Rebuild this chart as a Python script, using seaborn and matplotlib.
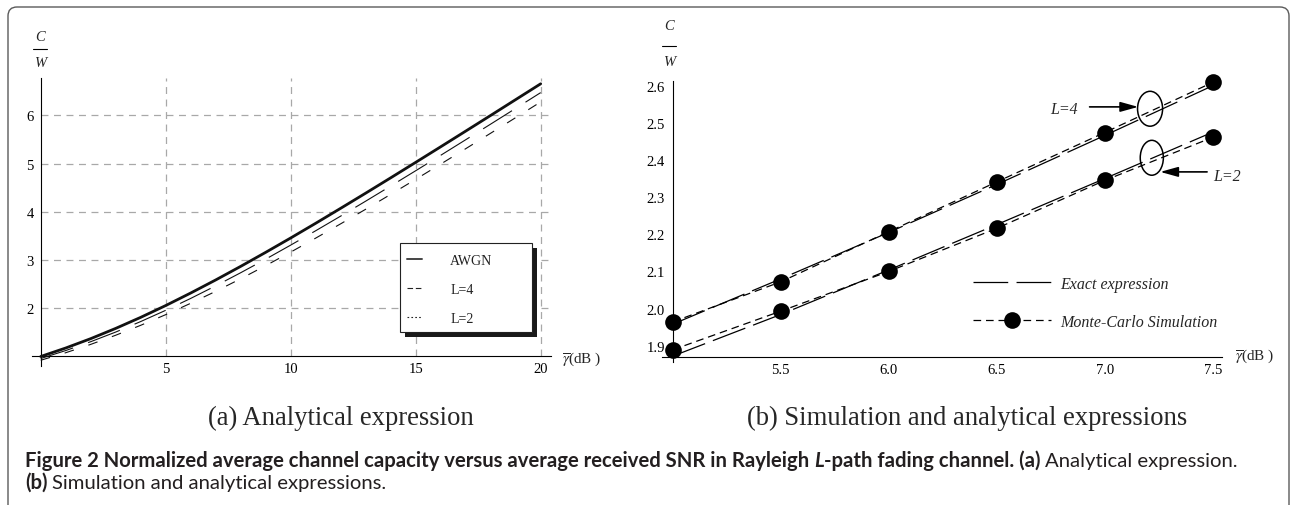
import numpy as np
import matplotlib
matplotlib.use("Agg")
import matplotlib.pyplot as plt
import seaborn as sns
from matplotlib.lines import Line2D
from matplotlib.patches import Rectangle, Ellipse, FancyBboxPatch
from matplotlib.transforms import IdentityTransform
from matplotlib import font_manager as fm

# ---------------- data ----------------
snr_db_a = list(range(0, 21))
cap_awgn = [1.000, 1.176, 1.370, 1.583, 1.812, 2.057, 2.317, 2.588, 2.870, 3.161, 3.459,
            3.764, 4.075, 4.389, 4.707, 5.028, 5.351, 5.676, 6.002, 6.330, 6.658]
cap_l4 = [0.958, 1.123, 1.307, 1.507, 1.725, 1.958, 2.205, 2.466, 2.738, 3.020, 3.311,
          3.609, 3.913, 4.223, 4.537, 4.854, 5.174, 5.497, 5.822, 6.148, 6.475]
cap_l2 = [0.922, 1.078, 1.251, 1.441, 1.647, 1.868, 2.104, 2.352, 2.613, 2.885, 3.166,
          3.456, 3.753, 4.055, 4.364, 4.676, 4.992, 5.311, 5.633, 5.956, 6.282]

snr_db_b = [5.0, 5.5, 6.0, 6.5, 7.0, 7.5]
exact_l4 = [1.958, 2.080, 2.205, 2.334, 2.466, 2.600]
exact_l2 = [1.872, 1.984, 2.104, 2.226, 2.350, 2.475]
mc_l4 = [1.964, 2.072, 2.207, 2.341, 2.474, 2.609]
mc_l2 = [1.889, 1.993, 2.100, 2.216, 2.345, 2.461]

xticks_a = [5, 10, 15, 20]
xtick_labels_a = ["5", "10", "15", "20"]
yticks_a = [2, 3, 4, 5, 6]
ytick_labels_a = ["2", "3", "4", "5", "6"]
xticks_b = [5.5, 6.0, 6.5, 7.0, 7.5]
xtick_labels_b = ["5.5", "6.0", "6.5", "7.0", "7.5"]
yticks_b = [1.9, 2.0, 2.1, 2.2, 2.3, 2.4, 2.5, 2.6]
ytick_labels_b = ["1.9", "2.0", "2.1", "2.2", "2.3", "2.4", "2.5", "2.6"]

legend_a_labels = ["AWGN", "L=4", "L=2"]
legend_b_labels = ["Exact expression", "Monte-Carlo Simulation"]

# ---------------- style ----------------
sns.set_style("white")
SERIF = "Liberation Serif"
plt.rcParams.update({
    "font.family": [SERIF, "DejaVu Serif"],
    "mathtext.fontset": "stix",
    "lines.scale_dashes": False,
    "axes.linewidth": 0.8,
})

W, H = 1294, 506
fig = plt.figure(figsize=(W / 100, H / 100), dpi=100)
fig.patch.set_facecolor("white")


def rect(l, r, t, b):
    return [l / W, 1 - b / H, (r - l) / W, (b - t) / H]


def fx(x):
    return x / W


def fy(y):
    return 1 - y / H


axA = fig.add_axes(rect(31.7, 550.7, 79, 366.7))
axB = fig.add_axes(rect(661.7, 1222.0, 82, 362.7))


def style_axes(ax, x0, y0, xmaj, xlab, xmin, ymaj, ylab, ymin, ypad, xpad):
    for s in ["top", "right"]:
        ax.spines[s].set_visible(False)
    ax.spines["left"].set_position(("data", x0))
    ax.spines["bottom"].set_position(("data", y0))
    for s in ["left", "bottom"]:
        ax.spines[s].set_color("black")
        ax.spines[s].set_linewidth(0.8)
    ax.set_xticks(xmaj, labels=xlab)
    ax.set_yticks(ymaj, labels=ylab)
    ax.set_xticks(xmin, minor=True)
    ax.set_yticks(ymin, minor=True)
    ax.tick_params(which="major", direction="in", length=3.8, width=0.7,
                   labelsize=10.5, colors="black", top=False, right=False)
    ax.tick_params(which="minor", direction="in", length=2.0, width=0.6,
                   top=False, right=False)
    ax.tick_params(axis="y", which="major", pad=ypad)
    ax.tick_params(axis="x", which="major", pad=xpad)
    for lab in ax.get_xticklabels() + ax.get_yticklabels():
        lab.set_fontfamily(SERIF)
    ax.set_xlabel("")
    ax.set_ylabel("")
    ax.set_facecolor("none")


# ---------------- panel (a) ----------------
xlimA = (-0.36, 20.4)
ylimA = (0.809, 6.778)
axA.hlines(yticks_a, 0, xlimA[1], colors="#a8a8a8", linewidth=0.9,
           linestyles=[(0, (5, 4))], zorder=1)
axA.vlines(xticks_a, 1, ylimA[1], colors="#a8a8a8", linewidth=0.9,
           linestyles=[(0, (5, 4))], zorder=1)

sns.lineplot(x=snr_db_a, y=cap_awgn, ax=axA, color="#111111", linewidth=2.0, zorder=3)
sns.lineplot(x=snr_db_a, y=cap_l4, ax=axA, color="#111111", linewidth=0.8,
             linestyle=(0, (24.5, 11.5)), zorder=3)
sns.lineplot(x=snr_db_a, y=cap_l2, ax=axA, color="#111111", linewidth=0.8,
             linestyle=(0, (7, 11)), zorder=3)

style_axes(axA, 0, 1, xticks_a, xtick_labels_a, np.arange(1, 21, 1),
           yticks_a, ytick_labels_a, np.arange(1.2, 6.7, 0.2), 5.0, 4.0)
axA.set_xlim(*xlimA)
axA.set_ylim(*ylimA)

# legend box with shadow
axA.add_patch(Rectangle((405, H - 338), 132, 89, transform=IdentityTransform(),
                        facecolor="#1a1a1a", edgecolor="none", zorder=4.6, clip_on=False))
axA.add_patch(Rectangle((400, H - 333), 132, 89, transform=IdentityTransform(),
                        facecolor="white", edgecolor="#222222", linewidth=0.8,
                        zorder=4.7, clip_on=False))
hA = [Line2D([], [], color="#444444", lw=1.4),
      Line2D([], [], color="#222222", lw=0.8, ls=(0, (4, 2))),
      Line2D([], [], color="#222222", lw=0.8, ls=(0, (1.2, 1.6)))]
legA = axA.legend(hA, legend_a_labels, loc="upper left",
                  bbox_to_anchor=(fx(407), fy(255)), bbox_transform=fig.transFigure,
                  frameon=False, prop=dict(family=SERIF, size=10),
                  handlelength=1.05, handletextpad=2.05,
                  labelspacing=1.15, borderpad=0, borderaxespad=0)
legA.set_zorder(6)
for t in legA.get_texts():
    t.set_color("#222222")

# ---------------- panel (b) ----------------
sns.lineplot(x=snr_db_b, y=exact_l4, ax=axB, color="black", linewidth=0.9,
             linestyle=(0, (25, 6)), zorder=3)
sns.lineplot(x=snr_db_b, y=exact_l2, ax=axB, color="black", linewidth=0.9,
             linestyle=(0, (25, 6)), zorder=3)
sns.lineplot(x=snr_db_b, y=mc_l4, ax=axB, color="black", linewidth=0.9,
             linestyle=(0, (5.5, 3.5)), marker="o", markersize=12,
             markeredgewidth=0, zorder=4, clip_on=False)
sns.lineplot(x=snr_db_b, y=mc_l2, ax=axB, color="black", linewidth=0.9,
             linestyle=(0, (5.5, 3.5)), marker="o", markersize=12,
             markeredgewidth=0, zorder=4, clip_on=False)

style_axes(axB, 5.0, 1.8696, xticks_b, xtick_labels_b, np.arange(5.1, 7.55, 0.1),
           yticks_b, ytick_labels_b, np.arange(1.88, 2.61, 0.02), 5.5, 4.0)
axB.set_xlim(4.949, 7.543)
axB.set_ylim(1.857, 2.6127)

axB.add_patch(Ellipse((7.21, 2.538), 0.116, 0.094, fill=False, edgecolor="black",
                      linewidth=1.1, zorder=5))
axB.add_patch(Ellipse((7.218, 2.406), 0.107, 0.094, fill=False, edgecolor="black",
                      linewidth=1.1, zorder=5))
arrow_kw = dict(arrowstyle="-|>,head_length=0.9,head_width=0.25", color="black",
                lw=1.2, mutation_scale=12, shrinkA=0, shrinkB=0)
axB.annotate("", xy=(7.155, 2.543), xytext=(6.93, 2.543), arrowprops=arrow_kw)
axB.annotate("", xy=(7.257, 2.368), xytext=(7.474, 2.368), arrowprops=arrow_kw,
             annotation_clip=False)
axB.text(6.81, 2.537, "L=4", fontsize=11.5, style="italic", family=SERIF,
         ha="center", va="center")
axB.text(7.566, 2.358, "L=2", fontsize=11.5, style="italic", family=SERIF,
         ha="center", va="center", clip_on=False)

hB = [Line2D([], [], color="black", lw=0.9, ls=(0, (25, 6))),
      Line2D([], [], color="black", lw=0.9, ls=(0, (5.5, 3.5)), marker="o",
             markersize=12, markeredgewidth=0)]
legB = axB.legend(hB, legend_b_labels, loc="upper left",
                  bbox_to_anchor=(fx(973), fy(277)), bbox_transform=fig.transFigure,
                  frameon=False, prop=dict(family=SERIF, style="italic", size=11.5),
                  handlelength=4.88, handletextpad=0.56, labelspacing=1.38,
                  borderpad=0, borderaxespad=0, numpoints=1)
legB.set_zorder(6)

# ---------------- axis titles ----------------
for cx, yc, yb, yw in [(40, 37.5, 50, 64), (668.6, 27, 47, 63)]:
    fig.text(fx(cx), fy(yc), "C", fontsize=10.5, style="italic", family=SERIF,
             ha="center", va="center")
    fig.add_artist(Line2D([fx(cx - 7), fx(cx + 7)], [fy(yb), fy(yb)],
                          transform=fig.transFigure, color="black", lw=0.8))
    fig.text(fx(cx), fy(yw), "W", fontsize=10.5, style="italic", family=SERIF,
             ha="center", va="center")

fig.text(fx(562), fy(359), r"$\overline{\gamma}$(dB )", fontsize=11, ha="left", va="center")
fig.text(fx(1235), fy(356), r"$\overline{\gamma}$(dB )", fontsize=11, ha="left", va="center")

# ---------------- captions ----------------
renderer = fig.canvas.get_renderer()


def text_w(t):
    return t.get_window_extent(renderer).width


tb = fig.text(fx(967.5), fy(418), "(b) Simulation and analytical expressions",
              fontsize=17, family=SERIF, ha="center", va="center")
size_sub = 17 * 441 / text_w(tb)
tb.set_fontsize(size_sub)
fig.text(fx(341), fy(418), "(a) Analytical expression", fontsize=size_sub,
         family=SERIF, ha="center", va="center")

avail = {f.name for f in fm.fontManager.ttflist}
cap_font = next(f for f in ["Liberation Sans Narrow", "Lato", "Open Sans", "DejaVu Sans"]
                if f in avail)
kw_b = dict(family=cap_font, weight="bold")
kw_bi = dict(family=cap_font, weight="bold", style="italic")
kw_r = dict(family=cap_font, weight="normal")


def space_w(kw, size):
    t1 = fig.text(0, 0, "a a", fontsize=size, **kw)
    t2 = fig.text(0, 0, "aa", fontsize=size, **kw)
    d = text_w(t1) - text_w(t2)
    t1.remove()
    t2.remove()
    return d


def place_runs(runs, x0, ybase, size):
    x = x0
    arts = []
    for txt, kw, sp in runs:
        t = fig.text(fx(x), fy(ybase), txt, fontsize=size, ha="left", va="baseline",
                     color="#231f20", **kw)
        x += text_w(t)
        if sp:
            x += space_w(kw, size)
        arts.append(t)
    return x - x0, arts


line1 = [("Figure 2 Normalized average channel capacity versus average received SNR in Rayleigh", kw_b, True),
         ("L", kw_bi, False),
         ("-path fading channel. (a)", kw_b, True),
         ("Analytical expression.", kw_r, False)]
line2 = [("(b)", kw_b, True),
         ("Simulation and analytical expressions.", kw_r, False)]

w0, arts = place_runs(line1, 25, 467, 12)
for a in arts:
    a.remove()
cap_size = 12 * 1204.5 / w0
place_runs(line1, 25, 467, cap_size)
place_runs(line2, 25, 489, cap_size)

# ---------------- frame ----------------
fig.add_artist(FancyBboxPatch((8, -40), 1281, H - 8 + 40,
                              boxstyle="round,pad=0,rounding_size=9",
                              transform=IdentityTransform(), facecolor="none",
                              edgecolor="#5a5a5a", linewidth=1.0))

fig.savefig("out.png", dpi=100, facecolor="white")
